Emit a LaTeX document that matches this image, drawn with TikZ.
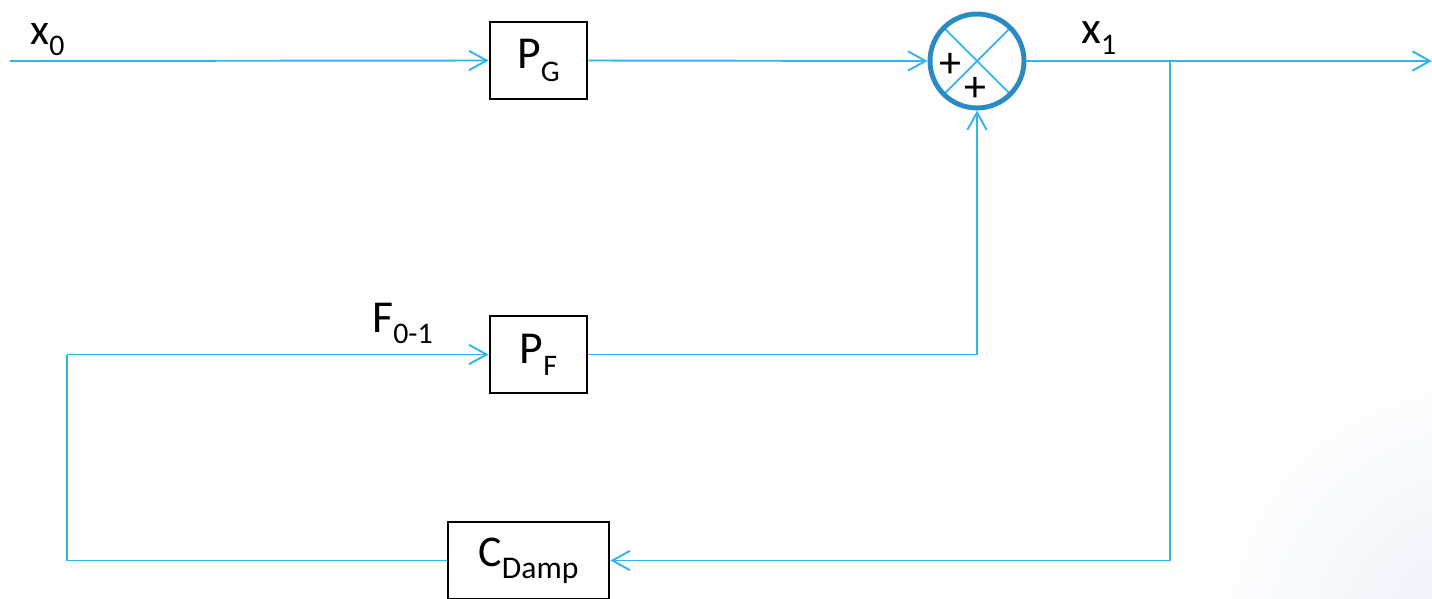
\documentclass[tikz,border=0pt]{standalone}
\usepackage{fontspec}
\setmainfont{Carlito}
\usetikzlibrary{arrows.meta}
\definecolor{wire}{HTML}{33B4F2}
\definecolor{ring}{HTML}{2A8AC4}
\definecolor{tint}{HTML}{EAF1FA}
\newcommand{\lab}[5]{{\fontsize{#1}{#1}\selectfont #2}{\raisebox{#5}{\fontsize{#3}{#3}\selectfont #4}}}
\begin{document}
\begin{tikzpicture}[x=0.02cm,y=-0.02cm,
  wire/.style={draw=wire,line width=1.1pt},
  arr/.style={wire,-{Straight Barb[length=10pt,width=11pt,line width=1.1pt]}},
  blk/.style={draw=black,line width=1.6pt,fill=white,inner sep=0pt,minimum height=1.54cm},
  txt/.style={inner sep=0pt,anchor=base west}]
\useasboundingbox (0,0) rectangle (1432,598);
\begin{scope}
\clip (0,0) rectangle (1432,598);
\shade[inner color=tint,outer color=white] (1480,640) circle (300);
\end{scope}
% blocks
\node[blk,minimum width=1.94cm] (pg) at (538.5,60.5) {\lab{26pt}{P}{17pt}{G}{-7pt}};
\node[blk,minimum width=1.94cm] (pf) at (538.5,354.5) {\lab{26pt}{P}{17pt}{F}{-7pt}};
\node[blk,minimum width=3.22cm] (cd) at (528.5,560.5) {\lab{25pt}{C}{18pt}{Damp}{-7pt}};
% summing junction
\node[circle,draw=ring,line width=2.8pt,fill=white,minimum size=1.88cm,inner sep=0pt,
  path picture={\draw[wire,line width=1pt] (path picture bounding box.north west) -- (path picture bounding box.south east)
                 (path picture bounding box.north east) -- (path picture bounding box.south west);}] (sum) at (977,61) {};
\node[inner sep=0pt,font=\fontsize{25pt}{25pt}\selectfont] (p1) at (950,65) {+};
\node[inner sep=0pt,font=\fontsize{25pt}{25pt}\selectfont] (p2) at (975,89) {+};
% coordinates
\coordinate (in) at (10,61);
\coordinate (out) at (1432,61);
\coordinate (br) at (1170,61);
\coordinate (lc) at (67,354.5);
% connectors
\draw[arr] (in) -- (pg.west);
\draw[arr] (pg.east) -- (sum.west);
\draw[arr] (sum.east) -- (out);
\draw[arr] (br) |- (cd.east);
\draw[wire] (cd.west) -| (lc);
\draw[arr] (lc) -- (pf.west);
\draw[arr] (pf.east) -| (sum.south);
% labels
\node[txt] (x0) at (30,45) {\lab{25pt}{x}{17pt}{0}{-6pt}};
\node[txt] (x1) at (1081,44) {\lab{26pt}{x}{17pt}{1}{-6pt}};
\node[txt] (f01) at (372,332) {\lab{26pt}{F}{17pt}{0-1}{-6.5pt}};
\end{tikzpicture}
\end{document}
